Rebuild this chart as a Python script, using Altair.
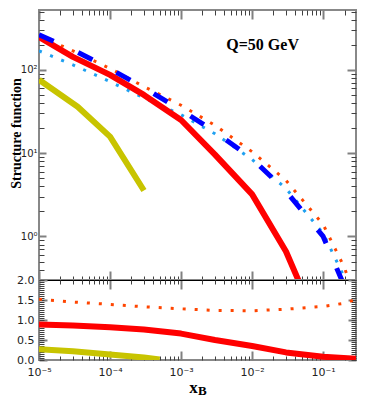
import altair as alt
import pandas as pd

# ---------------- data ----------------
# top panel: structure functions at Q = 50 GeV
x_yellow = [1e-5, 3.5e-5, 1e-4, 3e-4]
f_yellow = [76, 36, 15.8, 3.56]

x_red = [1e-5, 3e-5, 1e-4, 3e-4, 1e-3, 3e-3, 1e-2, 3e-2, 5e-2]
f_red = [248, 143, 87, 50, 25, 9.6, 3.2, 0.66, 0.24]

x_blue = [1e-5, 3e-5, 1e-4, 3e-4, 1e-3, 3e-3, 1e-2, 3e-2, 1e-1, 2e-1]
f_blue = [263, 174, 103, 61, 33, 18, 8.6, 3.5, 1.0, 0.25]

x_orange = [1e-5, 3e-5, 1e-4, 3e-4, 1e-3, 3e-3, 1e-2, 3e-2, 1e-1, 2e-1, 2.5e-1]
f_orange = [257, 169, 104, 63, 37.6, 21.6, 10.4, 4.7, 1.39, 0.42, 0.24]

x_cyan = [1e-5, 3e-5, 1e-4, 3e-4, 1e-3, 3e-3, 1e-2, 3e-2, 1e-1, 2e-1, 2.5e-1]
f_cyan = [169, 115, 72, 46, 28.9, 17.1, 8.4, 3.76, 1.09, 0.32, 0.15]

# bottom panel: ratios
rx_orange = [1e-5, 3e-5, 1e-4, 3e-4, 1e-3, 3e-3, 1e-2, 3e-2, 1e-1, 2e-1, 2.9e-1]
r_orange = [1.52, 1.45, 1.39, 1.33, 1.28, 1.24, 1.23, 1.27, 1.34, 1.42, 1.52]

rx_red = [1e-5, 3e-5, 1e-4, 3e-4, 1e-3, 3e-3, 1e-2, 3e-2, 1e-1, 2.9e-1]
r_red = [0.89, 0.86, 0.82, 0.76, 0.66, 0.50, 0.35, 0.19, 0.08, 0.03]

rx_yellow = [1e-5, 3e-5, 1e-4, 3e-4, 5e-4]
r_yellow = [0.27, 0.22, 0.14, 0.06, 0.01]

# annotation
label_text = ["Q=50 GeV"]
label_x = [0.01406]
label_y = [174]

# axis ticks
x_major = [1e-5, 1e-4, 1e-3, 1e-2, 1e-1]
x_minor = [m * 10.0 ** k for k in range(-5, 0) for m in range(2, 10) if m * 10.0 ** k <= 0.29]
yt_major = [1, 10, 100]
yt_minor = [m * 10.0 ** k for k in range(-1, 3) for m in range(2, 10) if 0.3 <= m * 10.0 ** k <= 523]
yb_major = [0.0, 0.5, 1.0, 1.5, 2.0]
yb_minor = [round(i * 0.05, 2) for i in range(41)]


def df(xs, ys):
    return pd.DataFrame({"x": xs, "y": ys})


xscale = alt.Scale(type="log", domain=[1e-5, 0.29], nice=False)
ytop = alt.Scale(type="log", domain=[0.3, 523], nice=False)
ybot = alt.Scale(type="linear", domain=[0, 2], nice=False, zero=False)

LOG_LABEL = ("'10' + (datum.value < 1 ? '\u207b' : '') + "
             "['\u2070','\u00b9','\u00b2','\u00b3','\u2074','\u2075','\u2076']"
             "[abs(round(log(datum.value)/LN10))]")

MAJ = "#808080"
MIN = "#404040"
LBL = "#222222"


def tick_axis(orient, values, size, color, width, **kw):
    base = dict(orient=orient, values=values, tickSize={"expr": str(-size)},
                tickColor=color, tickWidth=width, domain=False, grid=False,
                labels=False, title=None, minExtent=0, maxExtent=0)
    base.update(kw)
    return alt.Axis(**base)


def line(data, color, width, xaxis, yaxis, yscale, dash=None, opacity=1.0):
    mk = dict(color=color, strokeWidth=width, clip=True, strokeJoin="round", opacity=opacity)
    if dash:
        mk["strokeDash"] = dash
        mk["strokeCap"] = "butt"
    return alt.Chart(data).mark_line(**mk).encode(
        x=alt.X("x:Q", scale=xscale, axis=xaxis),
        y=alt.Y("y:Q", scale=yscale, axis=yaxis),
    )


# ---------------- top panel ----------------
ax_ytop_label = alt.Axis(
    orient="left", values=yt_major, tickSize={"expr": "-7"}, tickColor=MAJ, tickWidth=2,
    domain=False, grid=False, labelExpr=LOG_LABEL, labelFont="DejaVu Sans", labelFontSize=10,
    labelColor=LBL, labelPadding=9, labelFlush=False, labelOverlap=False,
    title="Structure function", titleFont="Liberation Serif", titleFontWeight="bold",
    titleFontSize=14, titleColor="black", titlePadding=0, titleY=123,
    minExtent=16, maxExtent=16)

top_layers = [
    line(df(x_cyan, f_cyan), "#1fa0f0", 3, None, None, ytop, dash=[3, 9]),
    line(df(x_orange, f_orange), "#ff4500", 3,
         tick_axis("bottom", x_minor, 4, MIN, 1),
         tick_axis("right", yt_minor, 5, MIN, 1), ytop, dash=[3, 9]),
    line(df(x_red, f_red), "#ff0000", 6,
         tick_axis("top", x_minor, 5, MIN, 1),
         tick_axis("left", yt_minor, 5, MIN, 1), ytop),
    line(df(x_blue, f_blue), "#0000ff", 5,
         tick_axis("bottom", x_major, 9, MAJ, 2, domain=True, domainColor="black", domainWidth=1),
         tick_axis("right", yt_major, 9, MAJ, 2), ytop, dash=[16, 27]),
    line(df(x_yellow, f_yellow), "#c8c400", 6,
         tick_axis("top", x_major, 9, MAJ, 2),
         ax_ytop_label, ytop),
    alt.Chart(pd.DataFrame({"x": label_x, "y": label_y, "t": label_text})).mark_text(
        font="Liberation Serif", fontWeight="bold", fontSize=16, color="black",
        align="center", baseline="alphabetic").encode(
        x=alt.X("x:Q", scale=xscale, axis=None),
        y=alt.Y("y:Q", scale=ytop, axis=None),
        text="t:N"),
]
top = alt.layer(*top_layers).resolve_axis(x="independent", y="independent").properties(
    width=317, height=270)

# ---------------- bottom panel ----------------
ax_xbot_label = alt.Axis(
    orient="bottom", values=x_major, tickSize={"expr": "-9"}, tickColor=MAJ, tickWidth=2,
    domain=False, grid=False, labelExpr=LOG_LABEL, labelFont="DejaVu Sans", labelFontSize=11,
    labelColor=LBL, labelPadding=15.5, labelFlush=False, labelOverlap=False,
    title="x", titleFont="Liberation Serif", titleFontWeight="bold", titleFontSize=17,
    titleColor="black", titleX=154, titleY=32, titleBaseline="alphabetic", titleAlign="center",
    minExtent=0)
ax_ybot_label = alt.Axis(
    orient="left", values=yb_major, tickSize={"expr": "-8"}, tickColor=MAJ, tickWidth=2,
    domain=False, grid=False, format=".1f", labelFont="DejaVu Sans", labelFontSize=11,
    labelColor=LBL, labelPadding=13, labelFlush=False, labelOverlap=False, title=None,
    minExtent=0)

bottom_layers = [
    line(df(rx_orange, r_orange), "#ff4500", 3, ax_xbot_label, ax_ybot_label, ybot, dash=[3, 9]),
    line(df(rx_red, r_red), "#ff0000", 6,
         tick_axis("bottom", x_minor, 4, MIN, 1),
         tick_axis("left", yb_minor, 5, MIN, 1), ybot),
    line(df(rx_yellow, r_yellow), "#c8c400", 6,
         tick_axis("top", x_major, 9, MAJ, 2, domain=True, domainColor="black", domainWidth=1),
         tick_axis("right", yb_major, 8, MAJ, 2), ybot),
    line(df(rx_red, r_red), "#ff0000", 1,
         tick_axis("top", x_minor, 4, MIN, 1),
         tick_axis("right", yb_minor, 5, MIN, 1), ybot, opacity=0.0),
    alt.Chart(pd.DataFrame({"t": ["B"]})).mark_text(
        text="B", font="Liberation Serif", fontWeight="bold", fontSize=13, color="black",
        align="left", baseline="alphabetic").encode(x=alt.value(159), y=alt.value(115)),
]
bottom = alt.layer(*bottom_layers).resolve_axis(x="independent", y="independent").properties(
    width=317, height=80)

chart = alt.vconcat(top, bottom, spacing=0, bounds="flush").properties(
    padding={"left": 0, "top": 0, "right": 0, "bottom": 0}
).configure_view(stroke="#888888", strokeWidth=2)

chart.save("out.html", embed_options={"renderer": "svg", "actions": False})
